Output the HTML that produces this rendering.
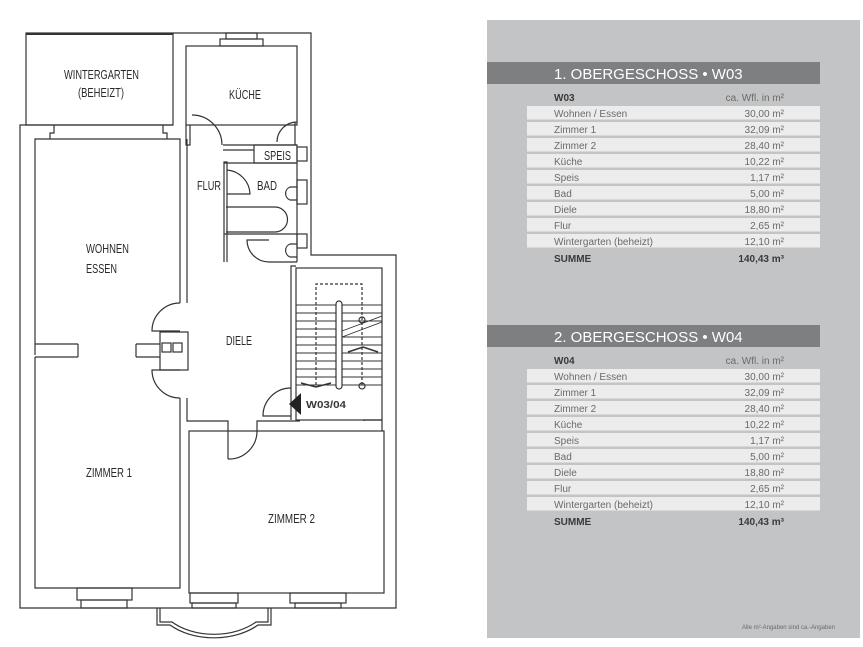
<!DOCTYPE html>
<html><head><meta charset="utf-8"><style>
html,body{margin:0;padding:0;background:#fff;width:863px;height:647px;overflow:hidden}
svg{position:absolute;left:0;top:0}
.t{font-family:"Liberation Sans",sans-serif;font-size:13px;fill:#2a2a2a}
.r{font-family:"Liberation Sans",sans-serif;font-size:10px;fill:#6a6a6a}
.b{font-family:"Liberation Sans",sans-serif;font-size:10px;font-weight:bold;fill:#3a3a3a}
.h{font-family:"Liberation Sans",sans-serif;font-size:15px;fill:#fff}
</style></head><body>
<svg width="863" height="647" viewBox="0 0 863 647">
<g fill="none" stroke="#333" stroke-width="1.2">
<rect x="26" y="33" width="147" height="92"/>
<line x1="26" y1="34" x2="173" y2="34" stroke-width="2"/>
<polyline points="173,33 311,33 311,255 396,255 396,608 20,608 20,125 173,125"/>
<polyline points="50,139 50,133 54,133 54,125"/>
<polyline points="167,139 167,133 163,133 163,125"/>
<rect x="220" y="39" width="43" height="7"/>
<rect x="226" y="33" width="31" height="6"/>
<polyline points="35,355 35,139 180,139 180,303"/>
<line x1="35" y1="344" x2="78" y2="344"/><line x1="35" y1="357" x2="78" y2="357"/><line x1="78" y1="344" x2="78" y2="357"/>
<line x1="136" y1="344" x2="160" y2="344"/><line x1="136" y1="357" x2="160" y2="357"/><line x1="136" y1="344" x2="136" y2="357"/>
<rect x="160" y="332" width="28" height="38"/>
<rect x="162" y="343" width="9" height="9"/><rect x="173" y="343" width="9" height="9"/>
<path d="M180,303 A28,28 0 0 0 152,331 L180,331"/>
<path d="M180,370 L152,370 A28,28 0 0 0 180,398"/>
<polyline points="187,303 187,139"/>
<polyline points="35,357 35,588 180,588 180,398"/>
<polyline points="187,398 187,421 228,421 228,459"/>
<path d="M228,459 A28,28 0 0 0 257,431"/>
<polyline points="257,431 257,421 300,421"/>
<rect x="189" y="431" width="195" height="162"/>
<polyline points="364,421 364,420 382,420 382,431"/>
<rect x="77" y="588" width="55" height="12"/><rect x="81" y="600" width="46" height="8"/>
<rect x="190" y="593" width="48" height="10"/><rect x="192" y="603" width="44" height="5"/>
<rect x="290" y="593" width="56" height="10"/><rect x="295" y="603" width="46" height="5"/>
<path d="M157,608 L157,625 L170,625 A60,40 0 0 0 258,625 L271,625 L271,608"/>
<path d="M160,608 L160,622 L172,622 A57,38 0 0 0 256,622 L268,622 L268,608"/>
<rect x="186" y="46" width="111" height="79"/>
<polyline points="186,125 186,145 190,145 190,125"/>
<path d="M192,115 A30,30 0 0 1 222,145"/>
<line x1="223" y1="145" x2="297" y2="145"/><line x1="223" y1="150" x2="254" y2="150"/>
<path d="M297,122 A20,20 0 0 0 277,142"/>
<line x1="295" y1="122" x2="295" y2="145"/>
<rect x="254" y="145" width="43" height="18"/>
<line x1="224" y1="163" x2="297" y2="163"/>
<polyline points="224,262 224,162 227,162 227,262"/>
<path d="M227,170 A25,25 0 0 1 250,194 L227,194"/>
<path d="M226,207 L275,207 A12,12 0 0 1 275,232 L226,232"/>
<line x1="224" y1="234" x2="297" y2="234"/>
<path d="M297,187 L290,187 A7,7 0 0 0 290,200 L297,200"/>
<path d="M297,244 L290,244 A7,7 0 0 0 290,257 L297,257"/>
<path d="M269,240 L247,240 A22,22 0 0 0 269,262"/>
<line x1="269" y1="262" x2="297" y2="262"/>
<line x1="297" y1="163" x2="297" y2="262"/>
<rect x="297" y="147" width="10" height="14"/><rect x="297" y="180" width="10" height="24"/><rect x="297" y="234" width="10" height="14"/>
<polyline points="291,420 291,266 296,266"/>
<rect x="296" y="268" width="86" height="152"/>
<g stroke-width="0.9">
<line x1="296" y1="305" x2="336" y2="305"/><line x1="296" y1="313" x2="336" y2="313"/><line x1="296" y1="321" x2="336" y2="321"/><line x1="296" y1="329" x2="336" y2="329"/><line x1="296" y1="337" x2="336" y2="337"/><line x1="296" y1="345" x2="336" y2="345"/><line x1="296" y1="353" x2="336" y2="353"/><line x1="296" y1="361" x2="336" y2="361"/><line x1="296" y1="369" x2="336" y2="369"/><line x1="296" y1="377" x2="336" y2="377"/><line x1="296" y1="385" x2="336" y2="385"/>
<line x1="342" y1="305" x2="382" y2="305"/><line x1="342" y1="313" x2="382" y2="313"/><line x1="342" y1="321" x2="382" y2="321"/>
<line x1="342" y1="337" x2="382" y2="337"/><line x1="342" y1="345" x2="382" y2="345"/><line x1="342" y1="353" x2="382" y2="353"/><line x1="342" y1="361" x2="382" y2="361"/><line x1="342" y1="369" x2="382" y2="369"/><line x1="342" y1="377" x2="382" y2="377"/><line x1="342" y1="385" x2="382" y2="385"/>
<line x1="342" y1="337" x2="382" y2="322"/><line x1="342" y1="331" x2="382" y2="316"/>
</g>
<rect x="336" y="301" width="6" height="88" rx="3" fill="#fff"/>
<polyline points="316,385 316,284 362,284 362,385" stroke-dasharray="3,2"/>
<circle cx="362" cy="320" r="3"/><circle cx="362" cy="386" r="3"/>
<polyline points="301,383 316,387 331,383" stroke-width="1.5"/>
<polyline points="348,352 363,347 378,352" stroke-width="1.5"/>
<path d="M291,388 A28,28 0 0 0 263,416 L291,416"/>
</g>
<polygon points="289,404 301,393 301,415" fill="#222"/>
<text x="306" y="408" class="b" textLength="40" lengthAdjust="spacingAndGlyphs">W03/04</text>
<text x="64" y="79" class="t" textLength="75" lengthAdjust="spacingAndGlyphs">WINTERGARTEN</text>
<text x="78" y="97" class="t" textLength="46" lengthAdjust="spacingAndGlyphs">(BEHEIZT)</text>
<text x="229" y="99" class="t" textLength="32" lengthAdjust="spacingAndGlyphs">KÜCHE</text>
<text x="264" y="160" class="t" textLength="27" lengthAdjust="spacingAndGlyphs">SPEIS</text>
<text x="197" y="190" class="t" textLength="24" lengthAdjust="spacingAndGlyphs">FLUR</text>
<text x="257" y="190" class="t" textLength="20" lengthAdjust="spacingAndGlyphs">BAD</text>
<text x="86" y="253" class="t" textLength="43" lengthAdjust="spacingAndGlyphs">WOHNEN</text>
<text x="86" y="273" class="t" textLength="31" lengthAdjust="spacingAndGlyphs">ESSEN</text>
<text x="226" y="345" class="t" textLength="26" lengthAdjust="spacingAndGlyphs">DIELE</text>
<text x="86" y="477" class="t" textLength="46" lengthAdjust="spacingAndGlyphs">ZIMMER 1</text>
<text x="268" y="523" class="t" textLength="47" lengthAdjust="spacingAndGlyphs">ZIMMER 2</text>

<rect x="487" y="20" width="373" height="618" fill="#c3c4c6"/>
<g>
<rect x="487" y="62" width="333" height="22" fill="#7e7f81"/>
<text x="554" y="79" class="h">1. OBERGESCHOSS • W03</text>
<text x="554" y="101" class="b">W03</text>
<text x="784" y="101" class="r" text-anchor="end">ca. Wfl. in m²</text>
<g fill="#ececec">
<rect x="527" y="106" width="293" height="13.5"/><rect x="527" y="122" width="293" height="13.5"/><rect x="527" y="138" width="293" height="13.5"/><rect x="527" y="154" width="293" height="13.5"/><rect x="527" y="170" width="293" height="13.5"/><rect x="527" y="186" width="293" height="13.5"/><rect x="527" y="202" width="293" height="13.5"/><rect x="527" y="218" width="293" height="13.5"/><rect x="527" y="234" width="293" height="13.5"/>
</g>
<text x="554" y="117" class="r">Wohnen / Essen</text><text x="784" y="117" class="r" text-anchor="end">30,00 m²</text>
<text x="554" y="133" class="r">Zimmer 1</text><text x="784" y="133" class="r" text-anchor="end">32,09 m²</text>
<text x="554" y="149" class="r">Zimmer 2</text><text x="784" y="149" class="r" text-anchor="end">28,40 m²</text>
<text x="554" y="165" class="r">Küche</text><text x="784" y="165" class="r" text-anchor="end">10,22 m²</text>
<text x="554" y="181" class="r">Speis</text><text x="784" y="181" class="r" text-anchor="end">1,17 m²</text>
<text x="554" y="197" class="r">Bad</text><text x="784" y="197" class="r" text-anchor="end">5,00 m²</text>
<text x="554" y="213" class="r">Diele</text><text x="784" y="213" class="r" text-anchor="end">18,80 m²</text>
<text x="554" y="229" class="r">Flur</text><text x="784" y="229" class="r" text-anchor="end">2,65 m²</text>
<text x="554" y="245" class="r">Wintergarten (beheizt)</text><text x="784" y="245" class="r" text-anchor="end">12,10 m²</text>
<text x="554" y="262" class="b">SUMME</text>
<text x="784" y="262" class="b" text-anchor="end">140,43 m³</text>
</g>
<g transform="translate(0,263)">
<rect x="487" y="62" width="333" height="22" fill="#7e7f81"/>
<text x="554" y="79" class="h">2. OBERGESCHOSS • W04</text>
<text x="554" y="101" class="b">W04</text>
<text x="784" y="101" class="r" text-anchor="end">ca. Wfl. in m²</text>
<g fill="#ececec">
<rect x="527" y="106" width="293" height="13.5"/><rect x="527" y="122" width="293" height="13.5"/><rect x="527" y="138" width="293" height="13.5"/><rect x="527" y="154" width="293" height="13.5"/><rect x="527" y="170" width="293" height="13.5"/><rect x="527" y="186" width="293" height="13.5"/><rect x="527" y="202" width="293" height="13.5"/><rect x="527" y="218" width="293" height="13.5"/><rect x="527" y="234" width="293" height="13.5"/>
</g>
<text x="554" y="117" class="r">Wohnen / Essen</text><text x="784" y="117" class="r" text-anchor="end">30,00 m²</text>
<text x="554" y="133" class="r">Zimmer 1</text><text x="784" y="133" class="r" text-anchor="end">32,09 m²</text>
<text x="554" y="149" class="r">Zimmer 2</text><text x="784" y="149" class="r" text-anchor="end">28,40 m²</text>
<text x="554" y="165" class="r">Küche</text><text x="784" y="165" class="r" text-anchor="end">10,22 m²</text>
<text x="554" y="181" class="r">Speis</text><text x="784" y="181" class="r" text-anchor="end">1,17 m²</text>
<text x="554" y="197" class="r">Bad</text><text x="784" y="197" class="r" text-anchor="end">5,00 m²</text>
<text x="554" y="213" class="r">Diele</text><text x="784" y="213" class="r" text-anchor="end">18,80 m²</text>
<text x="554" y="229" class="r">Flur</text><text x="784" y="229" class="r" text-anchor="end">2,65 m²</text>
<text x="554" y="245" class="r">Wintergarten (beheizt)</text><text x="784" y="245" class="r" text-anchor="end">12,10 m²</text>
<text x="554" y="262" class="b">SUMME</text>
<text x="784" y="262" class="b" text-anchor="end">140,43 m³</text>
</g>
<text x="835" y="629" class="r" text-anchor="end" style="font-size:6px">Alle m²-Angaben sind ca.-Angaben</text>
</svg>
</body></html>
